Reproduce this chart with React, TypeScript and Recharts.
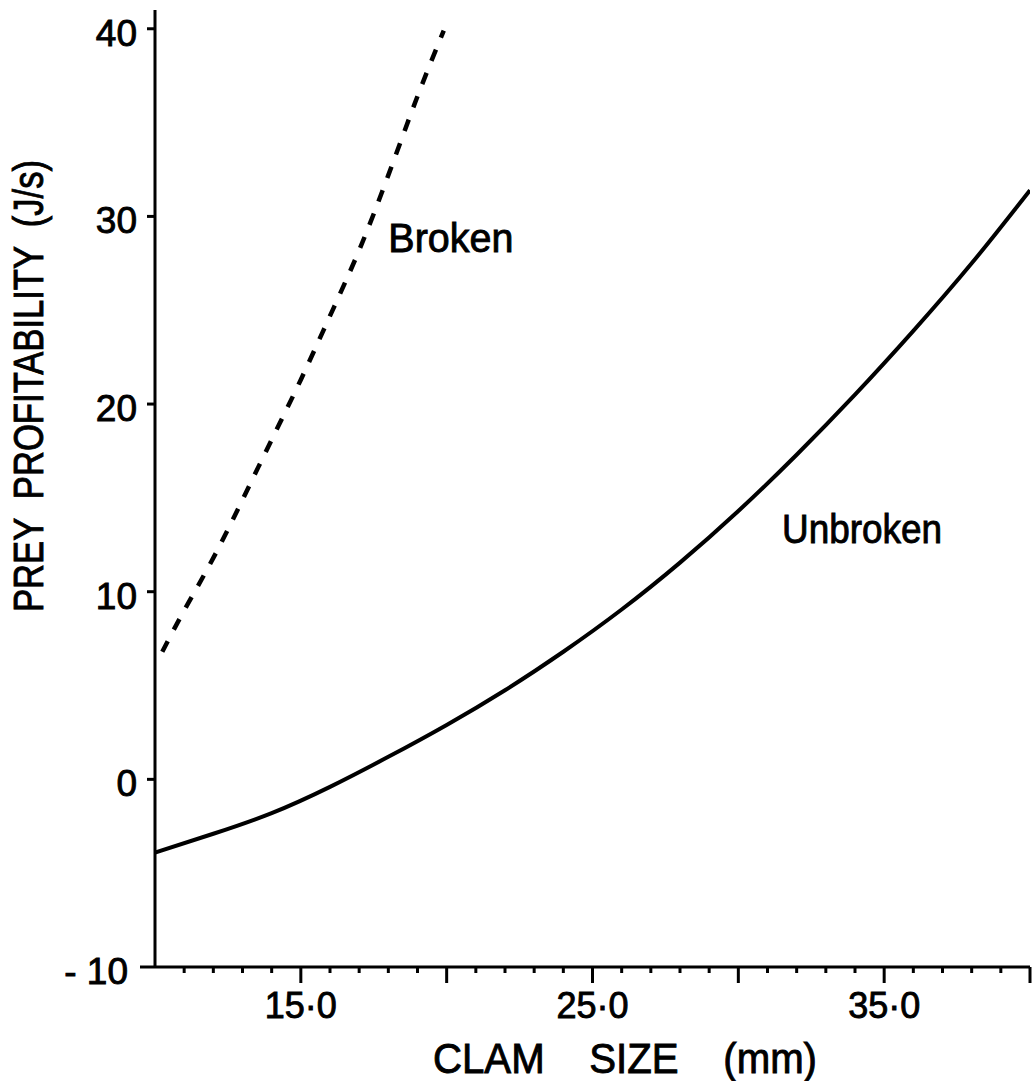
import React from 'react';
import { LineChart, Line, XAxis, YAxis, ReferenceDot } from 'recharts';

// Clam size (mm) and profitability (J/s) for broken (crushed) clams
const brokenSize = [10.25, 11, 12, 13, 14, 15, 16, 17, 18, 19, 19.9];
const brokenProfit = [6.8, 9.0, 11.8, 14.9, 18.1, 21.3, 24.7, 28.2, 32.2, 36.4, 39.9];

// Clam size (mm) and profitability (J/s) for unbroken clams
const unbrokenSize = [10, 12, 14, 16, 18, 20, 22, 24, 26, 28, 30, 32, 34, 36, 38, 40];
const unbrokenProfit = [-3.9, -2.9, -1.8, -0.4, 1.2, 2.9, 4.75, 6.8, 9.05, 11.55, 14.3, 17.3, 20.5, 23.9, 27.5, 31.4];

// Axis ticks
const xTicks = [11, 12, 13, 14, 15, 16, 17, 18, 19, 20, 21, 22, 23, 24, 25, 26, 27, 28, 29, 30, 31, 32, 33, 34, 35, 36, 37, 38, 39, 40];
const xMajorTicks = [15, 20, 25, 30, 35, 40];
const xTickLabels: Record<number, string> = { 15: '15·0', 25: '25·0', 35: '35·0' };
const yTicks = [-10, 0, 10, 20, 30, 40];
const yTickLabels: Record<string, string> = { '-10': '- 10', '0': '0', '10': '10', '20': '20', '30': '30', '40': '40' };

const brokenData = brokenSize.map((s, i) => ({ size: s, profit: brokenProfit[i] }));
const unbrokenData = unbrokenSize.map((s, i) => ({ size: s, profit: unbrokenProfit[i] }));

const FONT = '"Liberation Sans", Arial, sans-serif';
// slight outline to give the lettering a heavier, inked look
const INK = { fill: '#000', stroke: '#000', strokeWidth: 0.9 };

const XTick = (props: any) => {
  const { x, y, payload } = props;
  const v = payload.value;
  const len = xMajorTicks.includes(v) ? 16 : 6;
  const label = xTickLabels[v];
  return (
    <g>
      <line x1={x} y1={y} x2={x} y2={y + len} stroke="#000" strokeWidth={3} />
      {label && (
        <text x={x} y={y + 51} textAnchor="middle" fontFamily={FONT} fontSize={36} {...INK}>
          {label}
        </text>
      )}
    </g>
  );
};

const YTick = (props: any) => {
  const { x, y, payload } = props;
  const v = payload.value;
  const len = v === -10 ? 15 : 8;
  return (
    <g>
      <line x1={x} y1={y} x2={x - len} y2={y} stroke="#000" strokeWidth={3} />
      <text
        x={v === -10 ? x - 27 : x - 18}
        y={y + 17}
        textAnchor="end"
        fontFamily={FONT}
        fontSize={37}
        {...INK}
      >
        {yTickLabels[String(v)]}
      </text>
    </g>
  );
};

const XTitle = (props: any) => {
  const vb = props.viewBox || {};
  return (
    <text
      x={vb.x + 470}
      y={vb.y + 106}
      textAnchor="middle"
      fontFamily={FONT}
      fontSize={42}
      {...INK}
      textLength={384}
      lengthAdjust="spacingAndGlyphs"
      style={{ whiteSpace: 'pre' }}
    >
      {'CLAM    SIZE    (mm)'}
    </text>
  );
};

const YTitle = (props: any) => {
  const vb = props.viewBox || {};
  const cx = vb.x - 52;
  const cy = vb.y + 376;
  return (
    <text
      x={cx}
      y={cy}
      transform={`rotate(-90 ${cx} ${cy})`}
      textAnchor="middle"
      fontFamily={FONT}
      fontSize={42}
      {...INK}
      textLength={452}
      lengthAdjust="spacingAndGlyphs"
      style={{ whiteSpace: 'pre' }}
    >
      {'PREY  PROFITABILITY  (J/s)'}
    </text>
  );
};

const CurveName = (text: string, width: number) => (p: any) => (
  <text
    x={p.cx}
    y={p.cy}
    textAnchor="start"
    fontFamily={FONT}
    fontSize={40}
    {...INK}
    textLength={width}
    lengthAdjust="spacingAndGlyphs"
  >
    {text}
  </text>
);

export default function App() {
  return (
    <div style={{ position: 'absolute', left: 0, top: 0, background: '#fff' }}>
      <LineChart width={1035} height={1081} margin={{ top: 10, right: 5, left: 95, bottom: 54 }}>
        <XAxis
          type="number"
          dataKey="size"
          domain={[10, 40]}
          ticks={xTicks}
          interval={0}
          allowDataOverflow
          tickSize={0}
          tickMargin={0}
          tickLine={false}
          tick={<XTick />}
          axisLine={{ stroke: '#000', strokeWidth: 3 }}
          height={60}
          label={{ content: <XTitle /> } as any}
        />
        <YAxis
          type="number"
          domain={[-10, 41]}
          ticks={yTicks}
          interval={0}
          allowDataOverflow
          tickSize={0}
          tickMargin={0}
          tickLine={false}
          tick={<YTick />}
          axisLine={{ stroke: '#000', strokeWidth: 3 }}
          width={60}
          label={{ content: <YTitle /> } as any}
        />
        <Line
          data={brokenData}
          dataKey="profit"
          type="natural"
          stroke="#000"
          strokeWidth={4.5}
          strokeDasharray="12 13"
          dot={false}
          activeDot={false}
          isAnimationActive={false}
        />
        <Line
          data={unbrokenData}
          dataKey="profit"
          type="natural"
          stroke="#000"
          strokeWidth={4}
          dot={false}
          activeDot={false}
          isAnimationActive={false}
        />
        <ReferenceDot x={18} y={28.1} r={0} ifOverflow="visible" shape={CurveName('Broken', 125)} />
        <ReferenceDot x={31.5} y={12.6} r={0} ifOverflow="visible" shape={CurveName('Unbroken', 160)} />
      </LineChart>
    </div>
  );
}
